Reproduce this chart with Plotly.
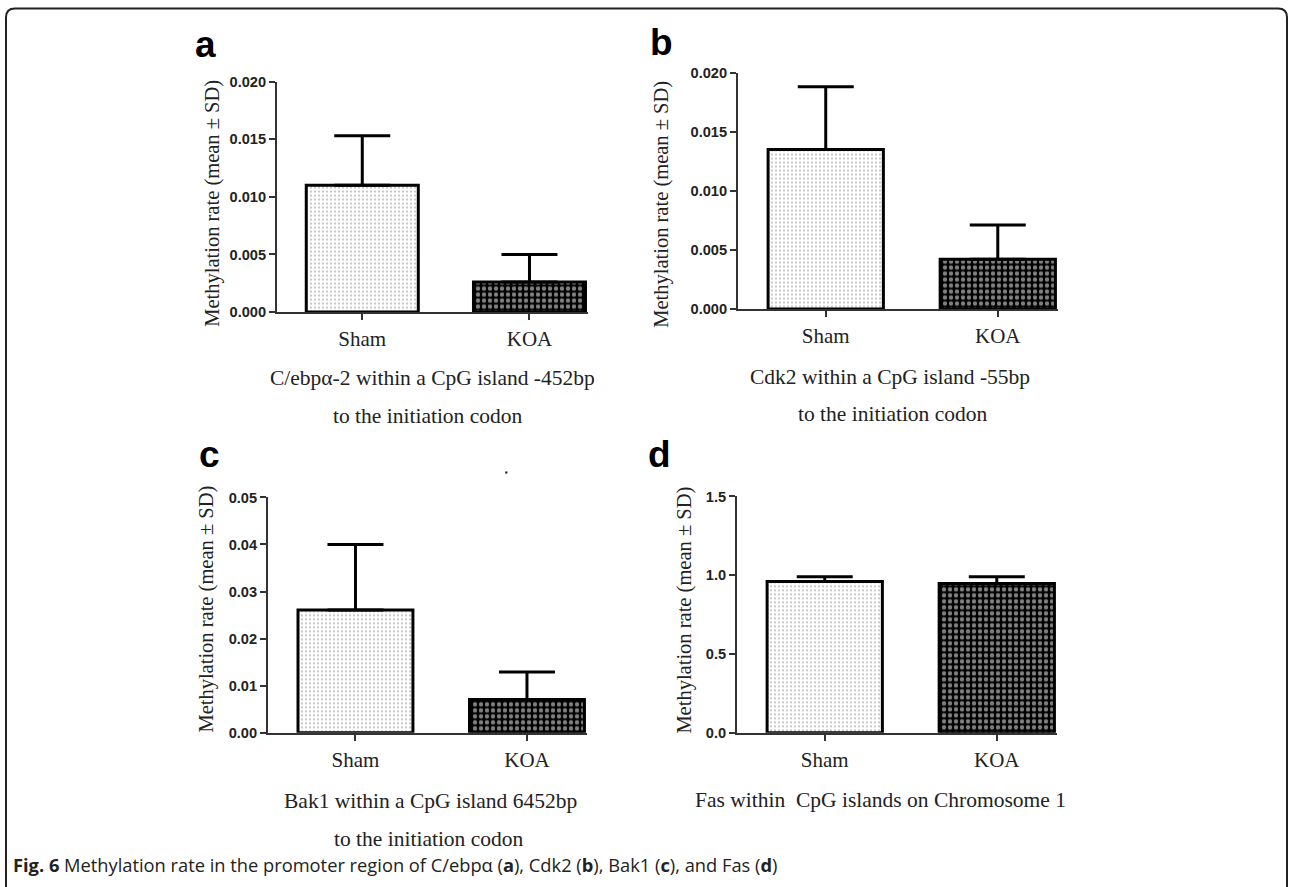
import plotly.graph_objects as go

W, H = 1289, 887

# ---- data ----
groups = ["Sham", "KOA"]
panel_letters = ["a", "b", "c", "d"]
means_a = [0.0110, 0.0026]
sd_a = [0.0043, 0.0024]
means_b = [0.0135, 0.0042]
sd_b = [0.0053, 0.0029]
means_c = [0.0261, 0.0071]
sd_c = [0.0139, 0.0058]
means_d = [0.96, 0.947]
sd_d = [0.03, 0.043]
yranges = [[0, 0.020], [0, 0.020], [0, 0.05], [0, 1.5]]
ytickvals = [
    [0.000, 0.005, 0.010, 0.015, 0.020],
    [0.000, 0.005, 0.010, 0.015, 0.020],
    [0.00, 0.01, 0.02, 0.03, 0.04, 0.05],
    [0.0, 0.5, 1.0, 1.5],
]
ytickfmt = [".3f", ".3f", ".2f", ".1f"]
subtitles = [
    ["C/ebpα-2 within a CpG island -452bp", "to the initiation codon"],
    ["Cdk2 within a CpG island -55bp", "to the initiation codon"],
    ["Bak1 within a CpG island 6452bp", "to the initiation codon"],
    ["Fas within  CpG islands on Chromosome 1"],
]
ytitle = "Methylation rate (mean ± SD)"
caption = ("<b>Fig. 6</b> Methylation rate in the promoter region of C/ebpα (<b>a</b>), "
           "Cdk2 (<b>b</b>), Bak1 (<b>c</b>), and Fas (<b>d</b>)")

means = [means_a, means_b, means_c, means_d]
sds = [sd_a, sd_b, sd_c, sd_d]

# pixel boxes of the plot areas: (x0, x1, ytop, ybottom)
boxes = [(277, 588, 83, 313), (738, 1058, 74, 310), (268, 587, 498, 733), (737, 1057, 497, 733)]

# the photographed page maps figure y to screen y as y_s = 0.980*y + 9.6
VS, VO = 0.980, 9.6


def px(x):
    return x / W


def py(y):
    return 1 - ((y - VO) / VS) / H


fig = go.Figure()
layout = dict(
    width=W, height=H, margin=dict(l=0, r=0, t=0, b=0),
    paper_bgcolor="white", plot_bgcolor="rgba(0,0,0,0)",
    showlegend=False, barmode="overlay",
    annotations=[], shapes=[],
)

serif = "Liberation Serif, Times New Roman, serif"
sans = "Liberation Sans, Arial, sans-serif"

styles = [
    dict(color="white", fg="#7a7a7a", size=4, solidity=0.22),   # Sham: fine grey dots
    dict(color="black", fg="white", size=6, solidity=0.42),     # KOA: dense checker
]

for i in range(4):
    x0, x1, yt, yb = boxes[i]
    xa = "xaxis" if i == 0 else f"xaxis{i+1}"
    ya = "yaxis" if i == 0 else f"yaxis{i+1}"
    xr = "x" if i == 0 else f"x{i+1}"
    yr = "y" if i == 0 else f"y{i+1}"
    for j, g in enumerate(groups):
        st = styles[j]
        fig.add_trace(go.Bar(
            x=[g], y=[means[i][j]], xaxis=xr, yaxis=yr, width=0.67,
            marker=dict(
                color=st["color"],
                line=dict(color="black", width=3),
                pattern=dict(shape=".", fgcolor=st["fg"], bgcolor=st["color"],
                             size=st["size"], solidity=st["solidity"], fillmode="overlay"),
            ),
            error_y=dict(type="data", array=[sds[i][j]], arrayminus=[0], symmetric=False,
                         color="black", thickness=3, width=28),
            hoverinfo="skip",
        ))
    layout[xa] = dict(
        domain=[px(x0), px(x1)], anchor=yr, type="category", categoryarray=groups,
        range=[-0.51, 1.35], showline=True, linecolor="#333", linewidth=2,
        ticks="outside", ticklen=6, tickwidth=2, tickcolor="#333",
        tickfont=dict(family=serif, size=21, color="#222"),
        ticklabelstandoff=1, showgrid=False, zeroline=False, fixedrange=True,
    )
    layout[ya] = dict(
        domain=[py(yb), py(yt)], anchor=xr, range=yranges[i],
        tickvals=ytickvals[i], tickformat=ytickfmt[i],
        showline=True, linecolor="#333", linewidth=2,
        ticks="outside", ticklen=6, tickwidth=2, tickcolor="#333",
        tickfont=dict(family=sans, size=14.6, color="#222", weight="bold"),
        showgrid=False, zeroline=False, fixedrange=True,
    )

# y-axis titles (rotated)
ytitle_pos = [(213, 205), (662, 206), (207, 610), (685, 611)]
for (x, y) in ytitle_pos:
    layout["annotations"].append(dict(
        x=px(x), y=py(y), xref="paper", yref="paper", text=ytitle, showarrow=False,
        textangle=-90, font=dict(family=serif, size=20.5, color="#222"),
        xanchor="center", yanchor="middle"))

# panel letters
letter_pos = [(205, 46), (661, 44), (209, 455), (659, 455)]
for (x, y), t in zip(letter_pos, panel_letters):
    layout["annotations"].append(dict(
        x=px(x), y=py(y), xref="paper", yref="paper", text=f"<b>{t}</b>", showarrow=False,
        font=dict(family=sans, size=37, color="black"), xanchor="center", yanchor="middle"))

# subtitles under the x axes
sub_pos = [[(432, 379), (428, 417)], [(890, 378), (893, 415)],
           [(430, 801), (429, 839)], [(881, 800)]]
for lines, poss in zip(subtitles, sub_pos):
    for t, (x, y) in zip(lines, poss):
        layout["annotations"].append(dict(
            x=px(x), y=py(y), xref="paper", yref="paper", text=t, showarrow=False,
            font=dict(family=serif, size=21.5, color="#222"), xanchor="center", yanchor="middle"))

# caption
layout["annotations"].append(dict(
    x=px(11), y=py(864), xref="paper", yref="paper", text=caption, showarrow=False,
    font=dict(family="Open Sans, Noto Sans, sans-serif", size=18.3, color="#222"),
    xanchor="left", yanchor="middle"))

# frame with rounded top corners
r = 9
x0f, x1f, y0f = px(6), px(1287), py(10)
rx, ry = r / W, r / H
path = (f"M {x0f},{py(900)} L {x0f},{y0f - ry} Q {x0f},{y0f} {x0f + rx},{y0f} "
        f"L {x1f - rx},{y0f} Q {x1f},{y0f} {x1f},{y0f - ry} L {x1f},{py(900)}")
layout["shapes"].append(dict(type="path", path=path, xref="paper", yref="paper",
                             line=dict(color="#222", width=2)))
# small stray dot in panel c
layout["shapes"].append(dict(type="circle", xref="paper", yref="paper",
                             x0=px(505), x1=px(507.5), y0=py(474.5), y1=py(472),
                             fillcolor="#333", line=dict(width=0)))

fig.update_layout(**layout)
css_js = (
    "document.documentElement.style.cssText='margin:0;padding:0;overflow:hidden;';"
    "document.body.style.cssText='margin:0;padding:0;overflow:hidden;';"
    "var gd=document.getElementById('{plot_id}');"
    "gd.style.display='block';gd.style.margin='0';"
    "window.scrollTo(0,0);"
)
fig.write_html(
    "out.html",
    config={"displayModeBar": False},
    post_script=css_js,
)
